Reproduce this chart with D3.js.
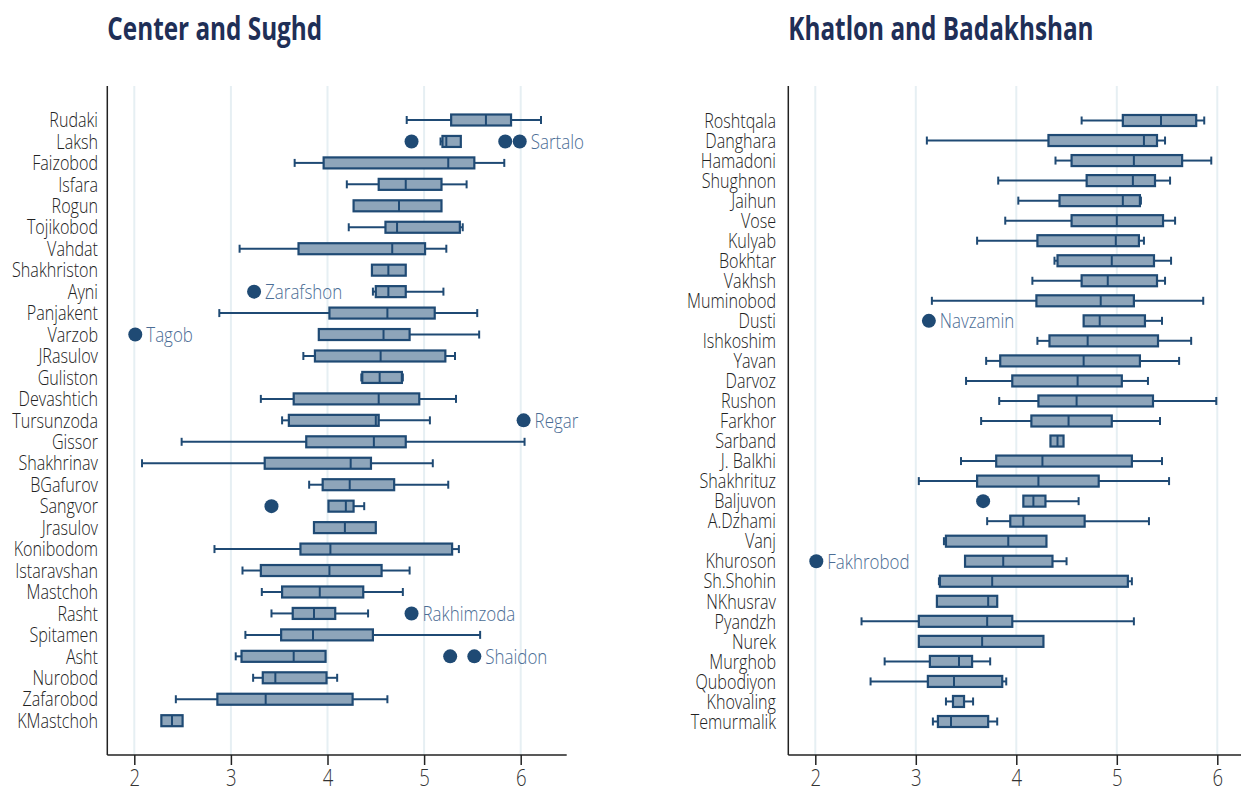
<!DOCTYPE html>
<html>
<head>
<meta charset="utf-8">
<script src="https://cdn.jsdelivr.net/npm/d3@7"></script>
<style>
  body { margin: 0; background: #fff; }
  svg text { font-family: "Open Sans", "DejaVu Sans", sans-serif; }
</style>
</head>
<body>
<div id="chart"></div>
<script>
// ---- data: Center and Sughd ----
var leftNames = ["Rudaki","Laksh","Faizobod","Isfara","Rogun","Tojikobod","Vahdat","Shakhriston","Ayni","Panjakent","Varzob","JRasulov","Guliston","Devashtich","Tursunzoda","Gissor","Shakhrinav","BGafurov","Sangvor","Jrasulov","Konibodom","Istaravshan","Mastchoh","Rasht","Spitamen","Asht","Nurobod","Zafarobod","KMastchoh"]
var leftLow  = [4.82,5.17,3.66,4.20,4.27,4.22,3.09,4.46,4.47,2.88,3.91,3.75,4.35,3.31,3.53,2.49,2.08,3.81,4.01,3.86,2.83,3.12,3.32,3.42,3.15,3.05,3.23,2.43,2.28]
var leftQ1   = [5.28,5.19,3.96,4.53,4.27,4.60,3.70,4.46,4.50,4.02,3.91,3.87,4.36,3.65,3.60,3.78,3.35,3.95,4.01,3.86,3.72,3.31,3.53,3.64,3.52,3.11,3.33,2.86,2.28]
var leftMed  = [5.64,5.23,5.25,4.81,4.74,4.72,4.67,4.63,4.63,4.62,4.58,4.55,4.54,4.53,4.50,4.48,4.24,4.23,4.19,4.18,4.03,4.02,3.92,3.86,3.85,3.65,3.46,3.36,2.39]
var leftQ3   = [5.90,5.38,5.52,5.18,5.18,5.37,5.01,4.81,4.81,5.11,4.85,5.22,4.77,4.95,4.53,4.81,4.45,4.69,4.27,4.50,5.29,4.56,4.37,4.08,4.47,3.98,3.99,4.26,2.50]
var leftHigh = [6.21,5.38,5.83,5.44,5.18,5.40,5.23,4.81,5.20,5.55,5.57,5.32,4.78,5.33,5.06,6.04,5.09,5.25,4.38,4.50,5.36,4.85,4.78,4.42,5.58,3.98,4.10,4.62,2.50]
var leftOutName  = ["Laksh","Laksh","Laksh","Ayni","Varzob","Tursunzoda","Sangvor","Rasht","Asht","Asht"]
var leftOutValue = [4.87,5.84,5.99,3.24,2.01,6.03,3.42,4.87,5.27,5.52]
var leftOutLabel = ["","","Sartalo","Zarafshon","Tagob","Regar","","Rakhimzoda","","Shaidon"]

// ---- data: Khatlon and Badakhshan ----
var rightNames = ["Roshtqala","Danghara","Hamadoni","Shughnon","Jaihun","Vose","Kulyab","Bokhtar","Vakhsh","Muminobod","Dusti","Ishkoshim","Yavan","Darvoz","Rushon","Farkhor","Sarband","J. Balkhi","Shakhrituz","Baljuvon","A.Dzhami","Vanj","Khuroson","Sh.Shohin","NKhusrav","Pyandzh","Nurek","Murghob","Qubodiyon","Khovaling","Temurmalik"]
var rightLow  = [4.65,3.11,4.39,3.82,4.02,3.89,3.61,4.38,4.16,3.16,4.67,4.21,3.70,3.50,3.83,3.65,4.34,3.45,3.03,4.07,3.71,3.28,3.49,3.23,3.21,2.46,3.03,2.69,2.55,3.30,3.17]
var rightQ1   = [5.06,4.32,4.55,4.70,4.43,4.55,4.21,4.41,4.65,4.20,4.67,4.33,3.84,3.96,4.22,4.15,4.34,3.80,3.61,4.07,3.94,3.30,3.49,3.24,3.21,3.03,3.03,3.14,3.12,3.37,3.22]
var rightMed  = [5.44,5.27,5.17,5.16,5.06,5.00,4.99,4.95,4.91,4.84,4.83,4.71,4.67,4.61,4.60,4.52,4.41,4.26,4.22,4.17,4.07,3.92,3.87,3.76,3.72,3.71,3.66,3.43,3.38,3.37,3.35]
var rightQ3   = [5.79,5.40,5.65,5.38,5.23,5.46,5.22,5.37,5.40,5.17,5.28,5.41,5.23,5.05,5.36,4.95,4.47,5.15,4.82,4.29,4.68,4.30,4.36,5.11,3.81,3.96,4.27,3.56,3.86,3.48,3.72]
var rightHigh = [5.87,5.48,5.94,5.53,5.24,5.58,5.27,5.54,5.48,5.86,5.45,5.74,5.62,5.31,5.99,5.43,4.47,5.45,5.52,4.62,5.32,4.30,4.50,5.15,3.81,5.17,4.27,3.74,3.90,3.57,3.81]
var rightOutName  = ["Dusti","Baljuvon","Khuroson"]
var rightOutValue = [3.13,3.67,2.01]
var rightOutLabel = ["Navzamin","","Fakhrobod"]

var ticks = [2, 3, 4, 5, 6]

// ---- drawing ----
var W = 1242, H = 792
var fillC = "#8ea5ba", strokeC = "#1f4a74", titleC = "#1f2f57", outLabelC = "#4b6d95", gridC = "#e6eff3"

var svg = d3.select("#chart").append("svg")
  .attr("width", W)
  .attr("height", H)

// the reference uses a condensed face; squeeze a normal one to match
function measure(txt, size, weight) {
  var t = svg.append("text").attr("font-size", size).attr("font-weight", weight).text(txt)
  var w = t.node().getComputedTextLength()
  t.remove()
  return w
}
var kLabel = 86 / measure("Shakhriston", 20, 300)
var kTitle = 215 / measure("Center and Sughd", 32, 700)

function panel(opt) {
  var x = d3.scaleLinear().domain([2, 6]).range(opt.xr)
  var y = d3.scalePoint().domain(opt.names).range(opt.yr)
  var g = svg.append("g")
  var top = 86, bottom = 755

  g.append("text")
    .attr("transform", `translate(${opt.axisX},40) scale(${kTitle},1)`)
    .attr("font-size", 32)
    .attr("font-weight", 700)
    .attr("fill", titleC)
    .text(opt.title)

  // grid
  g.append("g").selectAll("line")
    .data(ticks)
    .join("line")
    .attr("x1", d => x(d)).attr("x2", d => x(d))
    .attr("y1", top).attr("y2", bottom)
    .attr("stroke", gridC)
    .attr("stroke-width", 2)

  // x axis
  var ax = g.append("g")
    .attr("transform", `translate(0,${bottom})`)
    .call(d3.axisBottom(x).tickValues(ticks).tickSize(10).tickPadding(5).tickFormat(d3.format("d")))
  ax.select(".domain").remove()
  ax.selectAll(".tick line").attr("stroke", "#222").attr("stroke-width", 1.5)
  ax.selectAll(".tick text")
    .attr("font-size", 23)
    .attr("font-weight", 300)
    .attr("fill", "#333")
    .attr("font-family", null)
    .attr("transform", `scale(${kLabel},1)`)

  g.append("line")
    .attr("x1", opt.axisX).attr("x2", opt.axisEnd)
    .attr("y1", bottom).attr("y2", bottom)
    .attr("stroke", "#222").attr("stroke-width", 1.5)
  g.append("line")
    .attr("x1", opt.axisX).attr("x2", opt.axisX)
    .attr("y1", top).attr("y2", bottom)
    .attr("stroke", "#222").attr("stroke-width", 1.5)

  // y labels
  g.append("g").selectAll("text")
    .data(opt.names)
    .join("text")
    .attr("transform", d => `translate(${opt.labelX},${y(d)}) scale(${kLabel},1)`)
    .attr("dy", "0.36em")
    .attr("text-anchor", "end")
    .attr("font-size", 20)
    .attr("font-weight", 300)
    .attr("fill", "#222")
    .text(d => d)

  var rows = opt.names.map((n, i) => ({
    name: n, low: opt.low[i], q1: opt.q1[i], med: opt.med[i], q3: opt.q3[i], high: opt.high[i]
  }))

  var bx = g.append("g").selectAll("g")
    .data(rows)
    .join("g")
    .attr("transform", d => `translate(0,${y(d.name)})`)

  // whiskers
  bx.filter(d => d.low < d.q1).append("line")
    .attr("x1", d => x(d.low)).attr("x2", d => x(d.q1))
    .attr("stroke", strokeC).attr("stroke-width", 2)
  bx.filter(d => d.low < d.q1).append("line")
    .attr("x1", d => x(d.low)).attr("x2", d => x(d.low))
    .attr("y1", -4).attr("y2", 4)
    .attr("stroke", strokeC).attr("stroke-width", 2)
  bx.filter(d => d.high > d.q3).append("line")
    .attr("x1", d => x(d.q3)).attr("x2", d => x(d.high))
    .attr("stroke", strokeC).attr("stroke-width", 2)
  bx.filter(d => d.high > d.q3).append("line")
    .attr("x1", d => x(d.high)).attr("x2", d => x(d.high))
    .attr("y1", -4).attr("y2", 4)
    .attr("stroke", strokeC).attr("stroke-width", 2)

  bx.append("rect")
    .attr("x", d => x(d.q1))
    .attr("width", d => x(d.q3) - x(d.q1))
    .attr("y", -5.5)
    .attr("height", 11)
    .attr("fill", fillC)
    .attr("stroke", strokeC)
    .attr("stroke-width", 2.2)
  bx.append("line")
    .attr("x1", d => x(d.med)).attr("x2", d => x(d.med))
    .attr("y1", -5.5).attr("y2", 5.5)
    .attr("stroke", strokeC).attr("stroke-width", 2)

  // outliers
  var outs = opt.outName.map((n, i) => ({ name: n, v: opt.outValue[i], label: opt.outLabel[i] }))
  g.append("g").selectAll("circle")
    .data(outs)
    .join("circle")
    .attr("cx", d => x(d.v))
    .attr("cy", d => y(d.name))
    .attr("r", 7)
    .attr("fill", strokeC)
  g.append("g").selectAll("text")
    .data(outs.filter(d => d.label))
    .join("text")
    .attr("transform", d => `translate(${x(d.v) + 11},${y(d.name)}) scale(${kLabel},1)`)
    .attr("dy", "0.36em")
    .attr("font-size", 21)
    .attr("font-weight", 300)
    .attr("fill", outLabelC)
    .text(d => d.label)
}

panel({
  title: "Center and Sughd",
  names: leftNames, low: leftLow, q1: leftQ1, med: leftMed, q3: leftQ3, high: leftHigh,
  outName: leftOutName, outValue: leftOutValue, outLabel: leftOutLabel,
  xr: [134.3, 520.7], yr: [120, 720.7], axisX: 107.3, axisEnd: 566.7, labelX: 98
})

panel({
  title: "Khatlon and Badakhshan",
  names: rightNames, low: rightLow, q1: rightQ1, med: rightMed, q3: rightQ3, high: rightHigh,
  outName: rightOutName, outValue: rightOutValue, outLabel: rightOutLabel,
  xr: [815.3, 1217.3], yr: [120.5, 721.5], axisX: 788.3, axisEnd: 1241, labelX: 776
})
</script>
</body>
</html>
